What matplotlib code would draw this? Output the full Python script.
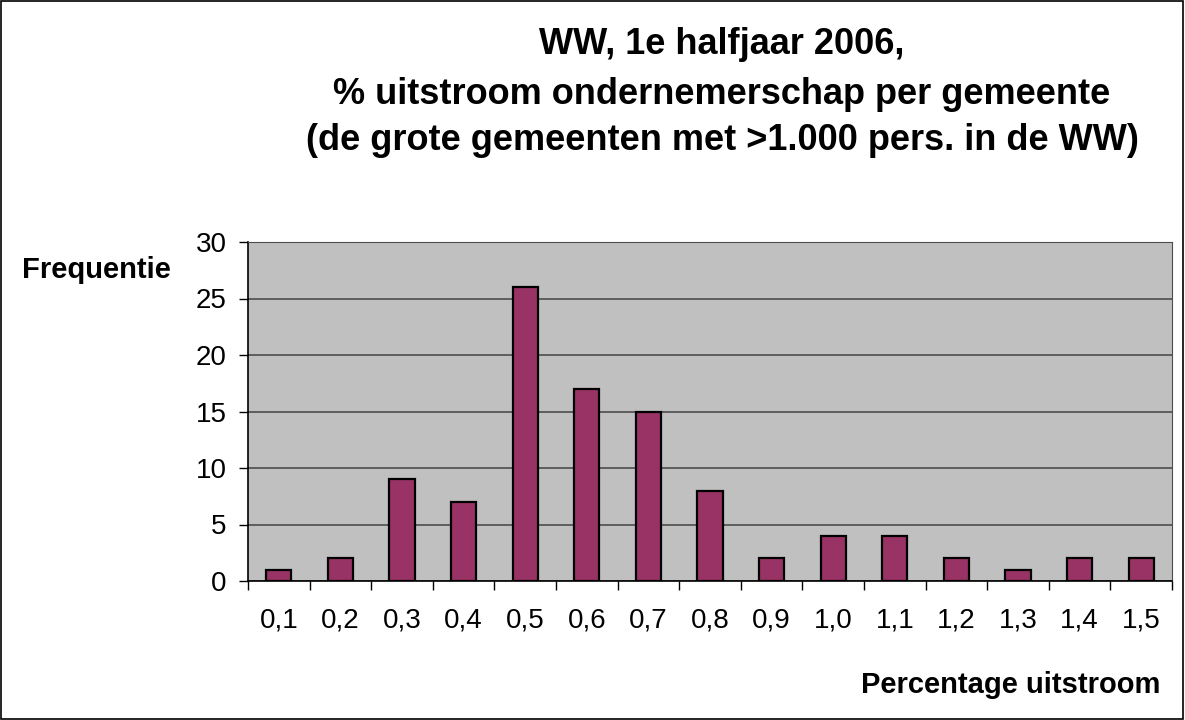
import matplotlib.pyplot as plt
from matplotlib.patches import Rectangle
import numpy as np

# data
categories = ['0,1', '0,2', '0,3', '0,4', '0,5', '0,6', '0,7', '0,8',
              '0,9', '1,0', '1,1', '1,2', '1,3', '1,4', '1,5']
frequentie = [1, 2, 9, 7, 26, 17, 15, 8, 2, 4, 4, 2, 1, 2, 2]
y_ticks = [0, 5, 10, 15, 20, 25, 30]

plt.rcParams['font.family'] = ['Liberation Sans', 'DejaVu Sans']

fig = plt.figure(figsize=(11.85, 7.2), dpi=100)
ax = fig.add_axes([248 / 1185, 1 - 581 / 720, (1172 - 248) / 1185, (581 - 242) / 720])

x = np.arange(len(categories))
ax.set_facecolor('#C0C0C0')
ax.bar(x, frequentie, width=0.41, color='#993366', edgecolor='black', linewidth=1.6, zorder=3)

ax.set_xlim(-0.5, len(categories) - 0.5)
ax.set_ylim(0, 30)
ax.set_yticks(y_ticks)
ax.yaxis.grid(True, color='#4d4d4d', linewidth=1.2, zorder=1)
ax.set_axisbelow(True)

# category labels in the middle, tick marks between categories
ax.set_xticks(x)
ax.set_xticklabels(categories)
ax.set_xticks(np.arange(len(categories) + 1) - 0.5, minor=True)
ax.tick_params(axis='x', which='major', length=0, pad=19, labelsize=20)
ax.tick_params(axis='x', which='minor', length=6.5, width=1, color='black')
ax.tick_params(axis='y', length=6.5, width=1, labelsize=20, pad=9)

for side in ['top', 'right']:
    ax.spines[side].set_color('#4d4d4d')
ax.spines['left'].set_linewidth(1.2)
ax.spines['bottom'].set_linewidth(1.2)

fig.text(722 / 1185, 1 - 45 / 720, 'WW, 1e halfjaar 2006,', ha='center', va='center',
         fontsize=26, fontweight='bold')
fig.text(722 / 1185, 1 - 94 / 720, '% uitstroom ondernemerschap per gemeente', ha='center',
         va='center', fontsize=26, fontweight='bold')
fig.text(722 / 1185, 1 - 140 / 720, '(de grote gemeenten met >1.000 pers. in de WW)',
         ha='center', va='center', fontsize=26, fontweight='bold')

fig.text(22 / 1185, 1 - 270 / 720, 'Frequentie', ha='left', va='center',
         fontsize=21, fontweight='bold')
fig.text(1160 / 1185, 1 - 685 / 720, 'Percentage uitstroom', ha='right', va='center',
         fontsize=21, fontweight='bold')

# outer border
fig.patches.append(Rectangle((0.001, 0.001), 0.997, 0.997, transform=fig.transFigure,
                             fill=False, edgecolor='black', linewidth=1.2))

fig.savefig('out.png', dpi=100)
